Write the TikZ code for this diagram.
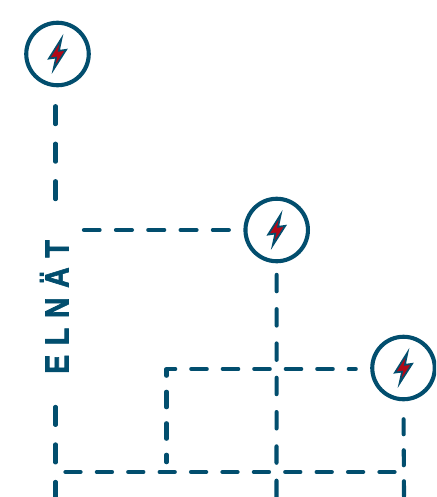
\documentclass[tikz,border=0pt]{standalone}
\usepackage{fontspec}
\setmainfont{Liberation Sans}
\definecolor{elblue}{HTML}{024E6E}
\definecolor{elred}{HTML}{B00818}
\tikzset{
  hub/.style={circle,draw=elblue,line width=4.1pt,fill=white,minimum size=62.5pt,inner sep=0pt,outer sep=0pt},
  conn/.style={draw=elblue,line width=4.1pt,line cap=round,line join=round},
  bolt/.pic={\draw[elblue,fill=elred,line width=1.7pt,line join=miter,miter limit=10]
    (4,-15.5) -- (-8.6,4.6) -- (-1.4,3.6) -- (-4,15.5) -- (8.6,-4.2) -- (1.4,-3.2) -- cycle;}
}
\begin{document}
\begin{tikzpicture}[x=1pt,y=-1pt]
\clip (0,0) rectangle (436,497);
\fill[white] (0,0) rectangle (436,497);
% hubs
\node[hub] (c1) at (57.5,54) {};
\node[hub] (c2) at (276.7,230) {};
\node[hub] (c3) at (403.5,368) {};
\pic at (c1) {bolt};
\pic at (c2) {bolt};
\pic at (c3) {bolt};
% free ends
\coordinate (leftA) at (55.5,199.5);
\coordinate (leftB) at (55.5,406.9);
\coordinate (leftC) at (55.5,497);
\coordinate (branchEnd) at (83.9,230);
\coordinate (midBottom) at (276.5,497);
\coordinate (corner) at (166.5,369);
\coordinate (innerEnd) at (166.5,462.2);
\coordinate (rightBottom) at (404,497);
\coordinate (busL) at (65.4,472);
\coordinate (busR) at (394.8,472);
% connectors
\draw[conn,dash pattern=on 18pt off 19.5pt,shorten <=20.9pt] ([xshift=-2pt]c1.south) -- (leftA);
\draw[conn,dash pattern=on 18pt off 19.5pt] (leftB) -- (leftC);
\draw[conn,dash pattern=on 16pt off 16.3pt,shorten <=16.6pt] (c2.west) -- (branchEnd);
\draw[conn,dash pattern=on 16.4pt off 17.9pt,shorten <=13.6pt] (c2.south) -- (midBottom);
\draw[conn,dash pattern=on 15.5pt off 16pt,dash phase=8.5pt,shorten <=16.5pt] (c3.west |- corner) -- (corner) -- (innerEnd);
\draw[conn,dash pattern=on 15pt off 16pt,shorten <=20pt] (c3.south) -- (rightBottom);
\draw[conn,dash pattern=on 15.2pt off 16.2pt] (busL) -- (busR);
% label
\node[rotate=90,anchor=base,inner sep=0pt,text=elblue] (label) at (68.5,307)
  {\scalebox{0.85}[1]{\fontsize{33.5pt}{36pt}\selectfont\bfseries\addfontfeature{FakeBold=2,LetterSpace=34}ELNÄT}};
\end{tikzpicture}
\end{document}
